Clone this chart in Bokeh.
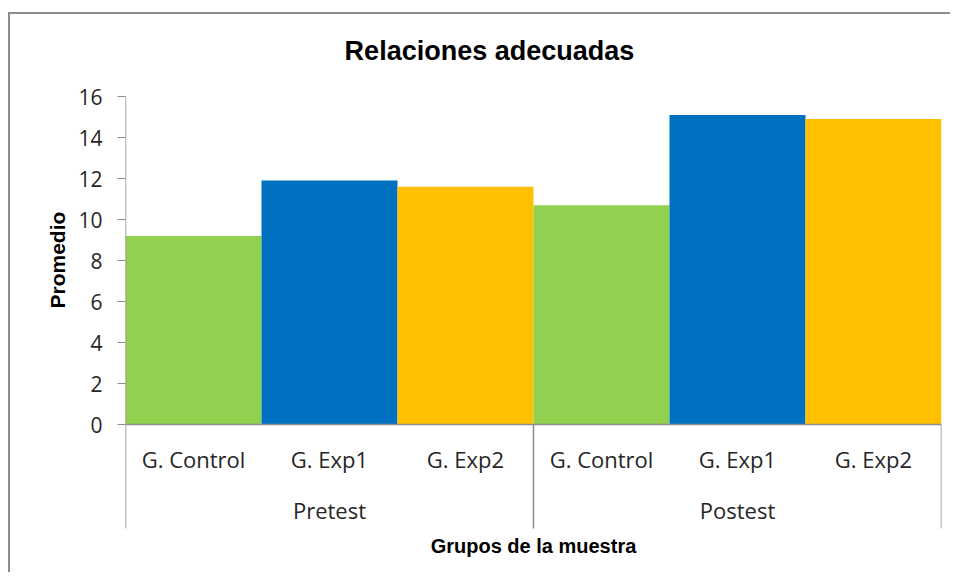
from bokeh.plotting import figure
from bokeh.models import FixedTicker, Range1d, Title
from bokeh.core.properties import value
from bokeh.embed import file_html
from bokeh.resources import INLINE

# ---- data ----
groups = ["Pretest", "Postest"]
subgroups = ["G. Control", "G. Exp1", "G. Exp2"]
pretest_values = [9.2, 11.9, 11.6]
postest_values = [10.7, 15.1, 14.9]
bar_colors = ["#92D050", "#0070C0", "#FFC000"]
y_ticks = [0, 2, 4, 6, 8, 10, 12, 14, 16]
title_text = "Relaciones adecuadas"
y_title = "Promedio"
x_title = "Grupos de la muestra"

series = [pretest_values, postest_values]
n_sub = len(subgroups)
n_all = len(groups) * n_sub
y_max = y_ticks[-1]

xs, tops, cols = [], [], []
for gi, vals in enumerate(series):
    for si, v in enumerate(vals):
        xs.append(gi * n_sub + si + 0.5)
        tops.append(v)
        cols.append(bar_colors[si])

p = figure(width=942, height=560, output_backend="svg", toolbar_location=None,
           x_range=Range1d(0, n_all), y_range=Range1d(-6.878, 20.0),
           x_axis_location=None, min_border_left=115, min_border_right=11,
           min_border_top=0, min_border_bottom=9)
p.styles = {"margin-left": "8px", "margin-top": "12px",
            "border-top": "2px solid #8c8c8c", "border-left": "2px solid #8c8c8c"}
p.outline_line_color = None
p.grid.visible = False
p.background_fill_color = "white"

axis_col = "#8c8c8c"
ya = p.yaxis[0]
ya.ticker = FixedTicker(ticks=y_ticks)
ya.axis_line_color = None
ya.major_tick_line_color = axis_col
ya.major_tick_out = 8
ya.major_tick_in = 0
ya.minor_tick_line_color = None
ya.major_label_text_font = "Open Sans"
ya.major_label_text_font_size = "21px"
ya.major_label_text_color = "#262626"
ya.major_label_standoff = 15

# y axis title as a left-side title
p.add_layout(Title(text=y_title, align="left", offset=257,
                   text_font="Liberation Sans", text_font_style="bold",
                   text_font_size="21px", text_color="black", standoff=14), "left")

# bars
p.vbar(x=xs, top=tops, width=1.0, bottom=0, fill_color=cols, line_color=None)

# axis lines
p.segment(x0=[0], y0=[0], x1=[0], y1=[y_max], line_color=axis_col, line_width=1.5)
p.segment(x0=[0], y0=[0], x1=[n_all], y1=[0], line_color=axis_col, line_width=1.5)
sep_x = [gi * n_sub for gi in range(len(groups) + 1)]
p.segment(x0=sep_x, y0=[0] * len(sep_x), x1=sep_x, y1=[-5.07] * len(sep_x),
          line_color=axis_col, line_width=1.5)

# category labels
lab_x = [gi * n_sub + si + 0.5 for gi in range(len(groups)) for si in range(n_sub)]
lab_t = [s for _ in groups for s in subgroups]
p.text(x=lab_x, y=[-1.66] * len(lab_x), text=lab_t, text_align="center",
       text_baseline="alphabetic", text_font=value("Open Sans"),
       text_font_size="22px", text_color="#262626")
grp_x = [gi * n_sub + n_sub / 2 for gi in range(len(groups))]
p.text(x=grp_x, y=[-4.15] * len(grp_x), text=groups, text_align="center",
       text_baseline="alphabetic", text_font=value("Open Sans"),
       text_font_size="22px", text_color="#262626")
p.text(x=[n_all / 2], y=[-5.92], text=[x_title], text_align="center",
       text_baseline="alphabetic", text_font=value("Liberation Sans"),
       text_font_style="bold", text_font_size="20px", text_color="black")

# chart title
p.text(x=[2.676], y=[18.24], text=[title_text], text_align="center",
       text_baseline="alphabetic", text_font=value("Liberation Sans"),
       text_font_style="bold", text_font_size="27px", text_color="black")

open("out.html", "w").write(file_html(p, INLINE))
